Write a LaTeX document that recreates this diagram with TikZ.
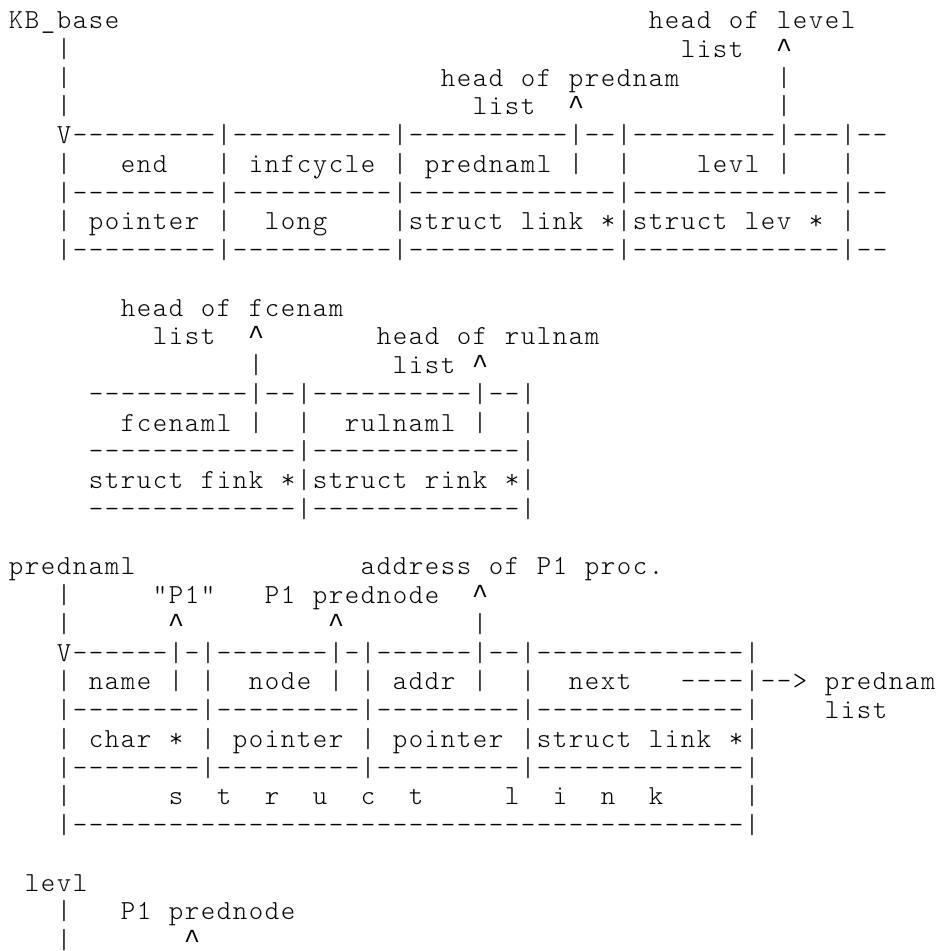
\documentclass[tikz,border=0pt]{standalone}
\usepackage{fontspec}
\newfontfamily\asciimono{lmmonolt10-regular.otf}
\newfontfamily\caretfont{Liberation Mono}

% one character cell of the monospaced grid
\newlength\cw
\setlength\cw{16pt}

% typeset a string one character per grid cell
\ExplSyntaxOn
\cs_new_protected:Npn \asciicells #1
  {
    \str_map_inline:nn {#1}
      {
        \str_if_eq:nnTF {##1} {^}
          { \makebox[\cw]{\caretfont\textasciicircum} }
          { \makebox[\cw]{##1} }
      }
  }
\ExplSyntaxOff

% place a piece of text starting at a given column of the current line
\newcommand\seg[2]{\rlap{\hspace*{#1\cw}\asciicells{#2}}}

\tikzset{
  txtline/.style={anchor=base west, inner sep=0pt, outer sep=0pt,
    font=\asciimono\fontsize{27.5pt}{28.75pt}\selectfont},
}
% one text line of the layout, by line number
\newcommand\asciirow[2]{\node[txtline] (row#1) at (7.6,{28.5+28.75*#1}) {#2};}

\begin{document}
\begin{tikzpicture}[x=1pt,y=-1pt]
\fill[white] (0,0) rectangle (939,951);
\useasboundingbox (0,0) rectangle (939,951);

% --- KB_base structure
\asciirow{0}{\seg{0}{KB_base}\seg{40}{head of level}}
\asciirow{1}{\seg{3}{|}\seg{42}{list}\seg{48}{^}}
\asciirow{2}{\seg{3}{|}\seg{27}{head of prednam}\seg{48}{|}}
\asciirow{3}{\seg{3}{|}\seg{29}{list}\seg{35}{^}\seg{48}{|}}
\asciirow{4}{\seg{3}{V---------|----------|----------|--|---------|---|--}}
\asciirow{5}{\seg{3}{|}\seg{7}{end}\seg{13}{|}\seg{15}{infcycle}\seg{24}{|}%
  \seg{26}{prednaml}\seg{35}{|}\seg{38}{|}\seg{43}{levl}\seg{48}{|}\seg{52}{|}}
\asciirow{6}{\seg{3}{|---------|----------|-------------|-------------|--}}
\asciirow{7}{\seg{3}{|}\seg{5}{pointer}\seg{13}{|}\seg{16}{long}%
  \seg{24}{|struct link *|struct lev *}\seg{52}{|}}
\asciirow{8}{\seg{3}{|---------|----------|-------------|-------------|--}}

% --- fcenam / rulnam heads
\asciirow{10}{\seg{7}{head of fcenam}}
\asciirow{11}{\seg{9}{list}\seg{15}{^}\seg{23}{head of rulnam}}
\asciirow{12}{\seg{15}{|}\seg{24}{list ^}}
\asciirow{13}{\seg{5}{----------|--|----------|--|}}
\asciirow{14}{\seg{7}{fcenaml |}\seg{18}{|}\seg{21}{rulnaml |}\seg{32}{|}}
\asciirow{15}{\seg{5}{-------------|-------------|}}
\asciirow{16}{\seg{5}{struct fink *|struct rink *|}}
\asciirow{17}{\seg{5}{-------------|-------------|}}

% --- struct link
\asciirow{19}{\seg{0}{prednaml}\seg{22}{address of P1 proc.}}
\asciirow{20}{\seg{3}{|}\seg{9}{"P1"}\seg{16}{P1 prednode}\seg{29}{^}}
\asciirow{21}{\seg{3}{|}\seg{10}{^}\seg{20}{^}\seg{29}{|}}
\asciirow{22}{\seg{3}{V------|-|-------|-|------|--|-------------|}}
\asciirow{23}{\seg{3}{| name | |}\seg{15}{node | |}\seg{24}{addr |}\seg{32}{|}%
  \seg{35}{next}\seg{42}{----|--> prednam}}
\asciirow{24}{\seg{3}{|--------|---------|---------|-------------|}\seg{51}{list}}
\asciirow{25}{\seg{3}{| char * | pointer | pointer |struct link *|}}
\asciirow{26}{\seg{3}{|--------|---------|---------|-------------|}}
\asciirow{27}{\seg{3}{|}\seg{10}{s}\seg{13}{t}\seg{16}{r}\seg{19}{u}\seg{22}{c}%
  \seg{25}{t}\seg{31}{l}\seg{34}{i}\seg{37}{n}\seg{40}{k}\seg{46}{|}}
\asciirow{28}{\seg{3}{|------------------------------------------|}}

% --- levl
\asciirow{30}{\seg{1}{levl}}
\asciirow{31}{\seg{3}{|}\seg{7}{P1 prednode}}
\asciirow{32}{\seg{3}{|}\seg{11}{^}}
\end{tikzpicture}
\end{document}
